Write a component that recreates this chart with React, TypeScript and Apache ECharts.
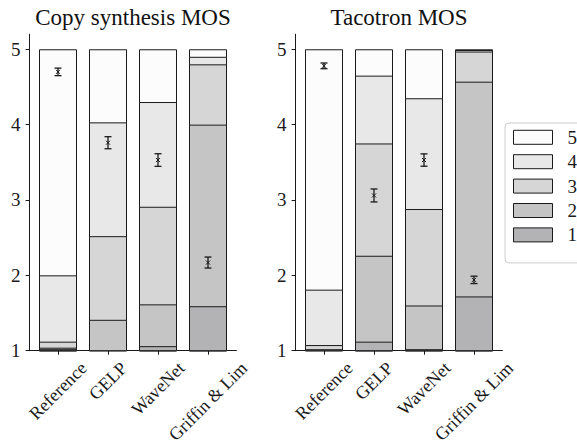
import { useEffect, useRef } from 'react';
import * as echarts from 'echarts';

const categories = ['Reference', 'GELP', 'WaveNet', 'Griffin & Lim'];
const ratings = ['1', '2', '3', '4', '5'];
const legendOrder = ['5', '4', '3', '2', '1'];
const ratingColors = ['#b3b3b5', '#c5c5c6', '#d6d6d7', '#e8e8e8', '#fcfcfc'];
const plotTitles = ['Copy synthesis MOS', 'Tacotron MOS'];
const yTicks = [1, 2, 3, 4, 5];

// cumulative upper edge of each rating band (rating 5 always ends at 5)
const copyTop1 = [1.02, 1.005, 1.06, 1.59];
const copyTop2 = [1.04, 1.41, 1.615, 4.0];
const copyTop3 = [1.12, 2.52, 2.91, 4.8];
const copyTop4 = [2.0, 4.03, 4.3, 4.9];
const copyTop5 = [5, 5, 5, 5];
const copyMean = [4.7, 3.76, 3.53, 2.17];
const copyCI = [0.05, 0.08, 0.084, 0.073];

const tacoTop1 = [1.005, 1.12, 1.02, 1.72];
const tacoTop2 = [1.02, 2.26, 1.6, 4.57];
const tacoTop3 = [1.075, 3.75, 2.88, 4.97];
const tacoTop4 = [1.81, 4.65, 4.35, 4.99];
const tacoTop5 = [5, 5, 5, 5];
const tacoMean = [4.78, 3.06, 3.53, 1.94];
const tacoCI = [0.038, 0.086, 0.082, 0.049];

const FONT = "'Liberation Serif', 'Times New Roman', serif";

function measure(text: string, size: number): number {
  const c = document.createElement('canvas').getContext('2d');
  if (!c) return text.length * size * 0.45;
  c.font = `${size}px 'Liberation Serif'`;
  return c.measureText(text).width;
}

export default function App() {
  const ref = useRef<HTMLDivElement>(null);
  useEffect(() => {
    if (!ref.current) return;
    const chart = echarts.init(ref.current, undefined, { renderer: 'svg' });
    const panels = [
      { tops: [copyTop1, copyTop2, copyTop3, copyTop4, copyTop5], mean: copyMean, ci: copyCI, left: 29.6 },
      { tops: [tacoTop1, tacoTop2, tacoTop3, tacoTop4, tacoTop5], mean: tacoMean, ci: tacoCI, left: 295.6 },
    ];
    const gridW = 206.8;
    const grids = panels.map((p) => ({ left: p.left, width: gridW, top: 34.2, height: 316.5 }));
    const xAxes = panels.map((_, gi) => ({
      type: 'value',
      gridIndex: gi,
      min: -0.568,
      max: 3.568,
      axisLine: { show: true, onZero: false, lineStyle: { color: '#1a1a1a', width: 1 } },
      axisTick: { show: true, customValues: [0, 1, 2, 3], length: 4, lineStyle: { color: '#1a1a1a' } },
      axisLabel: { show: false },
      splitLine: { show: false },
    }));
    const yAxes = panels.map((_, gi) => ({
      type: 'value',
      gridIndex: gi,
      min: 1,
      max: 5.2,
      axisLine: { show: true, onZero: false, lineStyle: { color: '#1a1a1a', width: 1 } },
      axisTick: { show: true, customValues: yTicks, length: 4, lineStyle: { color: '#1a1a1a' } },
      axisLabel: { customValues: yTicks, fontSize: 19, fontFamily: FONT, color: '#1a1a1a', margin: 9 },
      splitLine: { show: false },
    }));
    const series: any[] = [];
    panels.forEach((p, gi) => {
      // draw from rating 5 (tallest) down to rating 1 so each band's upper edge shows
      for (let k = 4; k >= 0; k--) {
        series.push({
          type: 'bar',
          name: ratings[k],
          xAxisIndex: gi,
          yAxisIndex: gi,
          barWidth: 38,
          barGap: '-100%',
          z: 2 + (4 - k) * 0.1,
          itemStyle: { color: ratingColors[k], borderColor: '#1a1a1a', borderWidth: 1 },
          data: categories.map((_, i) => [i, p.tops[k][i]]),
        });
      }
      series.push({
        type: 'custom',
        xAxisIndex: gi,
        yAxisIndex: gi,
        silent: true,
        z: 10,
        encode: { x: 0, y: 1 },
        data: p.mean.map((m, i) => [i, m, p.ci[i]]),
        renderItem: (_params: any, api: any) => {
          const x = api.value(0);
          const m = api.value(1);
          const e = api.value(2);
          const t = api.coord([x, m + e]);
          const b = api.coord([x, m - e]);
          const c = api.coord([x, m]);
          const st = { stroke: '#1a1a1a', lineWidth: 1.3 };
          const h = 3.5;
          return {
            type: 'group',
            children: [
              { type: 'line', shape: { x1: t[0], y1: t[1], x2: b[0], y2: b[1] }, style: st },
              { type: 'line', shape: { x1: t[0] - h, y1: t[1], x2: t[0] + h, y2: t[1] }, style: st },
              { type: 'line', shape: { x1: b[0] - h, y1: b[1], x2: b[0] + h, y2: b[1] }, style: st },
              { type: 'line', shape: { x1: c[0] - 2, y1: c[1] - 2, x2: c[0] + 2, y2: c[1] + 2 }, style: { stroke: '#1a1a1a', lineWidth: 1 } },
              { type: 'line', shape: { x1: c[0] - 2, y1: c[1] + 2, x2: c[0] + 2, y2: c[1] - 2 }, style: { stroke: '#1a1a1a', lineWidth: 1 } },
            ],
          };
        },
      });
      series.push({
        type: 'custom',
        xAxisIndex: gi,
        yAxisIndex: gi,
        silent: true,
        clip: false,
        encode: { x: 0, y: 1 },
        data: categories.map((_, i) => [i, 1]),
        renderItem: (_params: any, api: any) => {
          const i = api.value(0);
          const pos = api.coord([i, 1]);
          const name = categories[i];
          const w = measure(name, 18);
          const cy = pos[1] + 8 + (w + 18) / (2 * Math.SQRT2);
          return {
            type: 'text',
            x: pos[0],
            y: cy,
            rotation: Math.PI / 4,
            style: { text: name, fill: '#1a1a1a', font: `18px ${FONT}`, align: 'center', verticalAlign: 'middle' },
          };
        },
      });
    });
    const titleCenters = panels.map((p) => p.left + gridW / 2);
    chart.setOption({
      animation: false,
      backgroundColor: '#ffffff',
      title: plotTitles.map((t, i) => ({
        text: t,
        left: titleCenters[i] - measure(t, 23) / 2,
        top: 6,
        padding: 0,
        textStyle: { fontSize: 23, fontFamily: FONT, fontWeight: 'normal', color: '#111' },
      })),
      legend: {
        data: legendOrder,
        orient: 'vertical',
        left: 505,
        top: 123,
        icon: 'rect',
        itemWidth: 39,
        itemHeight: 14,
        itemGap: 5.4,
        padding: [4.8, 24, 18.5, 8],
        borderColor: '#cccccc',
        borderWidth: 1,
        borderRadius: 4,
        backgroundColor: '#ffffff',
        itemStyle: { borderColor: '#1a1a1a', borderWidth: 1 },
        textStyle: { fontSize: 19, fontFamily: FONT, color: '#1a1a1a', padding: [0, 0, 0, 10] },
      },
      grid: grids,
      xAxis: xAxes,
      yAxis: yAxes,
      series,
    });
    return () => chart.dispose();
  }, []);
  return <div ref={ref} style={{ position: 'fixed', left: 0, top: 0, width: 577, height: 444 }} />;
}
